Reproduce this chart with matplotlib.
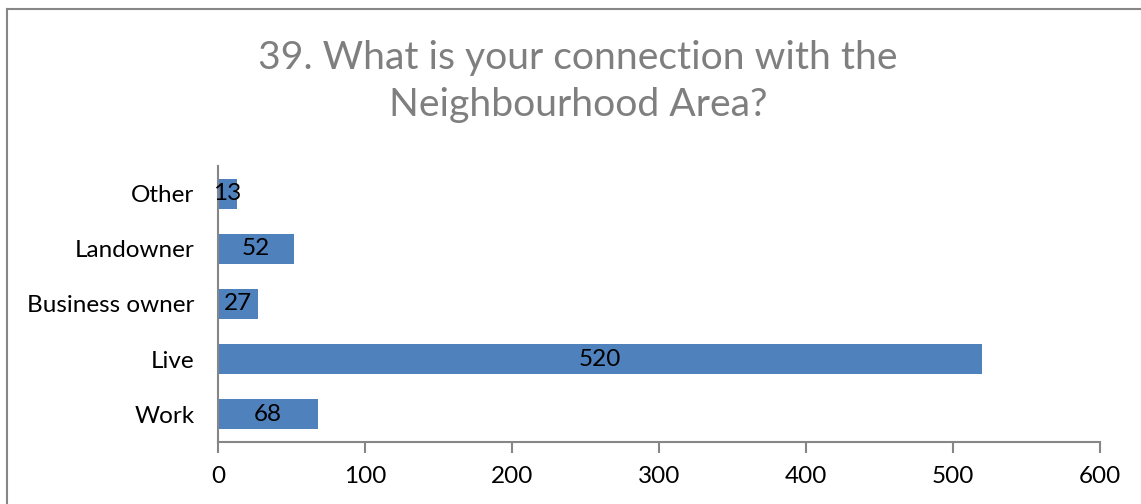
import matplotlib
matplotlib.use("Agg")
import matplotlib.pyplot as plt

categories = ["Work", "Live", "Business owner", "Landowner", "Other"]
counts = [68, 520, 27, 52, 13]
x_ticks = [0, 100, 200, 300, 400, 500, 600]

plt.rcParams["font.family"] = ["Lato", "DejaVu Sans"]

W, H = 1141, 504
fig = plt.figure(figsize=(W / 100, H / 100), dpi=100)
fig.patch.set_facecolor("white")

# chart frame (top and left edges visible)
fig.add_artist(plt.Line2D([7 / W, 7 / W], [0, 1 - 9 / H], transform=fig.transFigure,
                          color="#868686", lw=1.5))
fig.add_artist(plt.Line2D([7 / W, 1], [1 - 9 / H, 1 - 9 / H], transform=fig.transFigure,
                          color="#868686", lw=1.5))

left, right = 218 / W, 1100 / W
bottom, top = (H - 442) / H, (H - 166) / H
ax = fig.add_axes([left, bottom, right - left, top - bottom])

y = range(len(categories))
ax.barh(y, counts, height=0.54, color="#4F81BD", edgecolor="none")
for yi, v in zip(y, counts):
    ax.text(v / 2, yi, str(v), ha="center", va="center", fontsize=17.5, color="black")

ax.set_xlim(0, 600)
ax.set_ylim(-0.5, len(categories) - 0.5)
ax.set_xticks(x_ticks)
ax.set_xticklabels([str(t) for t in x_ticks], fontsize=17.5)
ax.set_yticks(list(y))
ax.set_yticklabels(categories, fontsize=17.5)
ax.tick_params(axis="y", length=0, pad=17)
ax.tick_params(axis="x", length=8, width=1.5, color="#868686", pad=9, direction="out")

for s in ["top", "right"]:
    ax.spines[s].set_visible(False)
for s in ["left", "bottom"]:
    ax.spines[s].set_color("#868686")
    ax.spines[s].set_linewidth(1.5)

fig.text(578 / W, 1 - 58 / H, "39. What is your connection with the", ha="center", va="center",
         fontsize=28.2, color="#7F7F7F")
fig.text(578 / W, 1 - 105 / H, "Neighbourhood Area?", ha="center", va="center",
         fontsize=28.2, color="#7F7F7F")

fig.savefig("out.png", dpi=100, facecolor="white")
